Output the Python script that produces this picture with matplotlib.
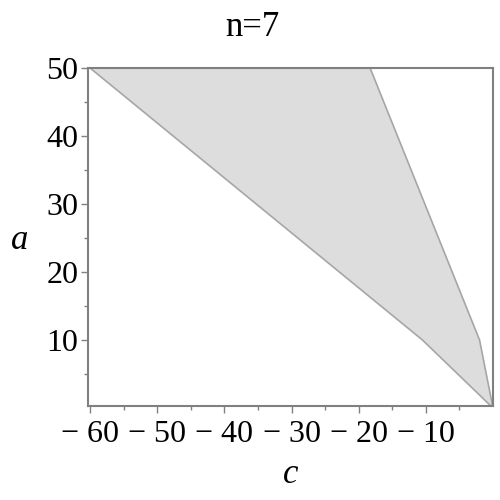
import matplotlib
matplotlib.use("Agg")
import matplotlib.pyplot as plt
from matplotlib.patches import Polygon
from matplotlib.ticker import FixedLocator

# Region vertices (c, a)
c_vals = [-60.0, -18.3, -2.0, 0.0, -10.5]
a_vals = [50.0, 50.0, 10.0, 0.0, 10.0]

x_ticks = [-60, -50, -40, -30, -20, -10]
x_labels = ["\u2212 60", "\u2212 50", "\u2212 40", "\u2212 30", "\u2212 20", "\u2212 10"]
y_ticks = [10, 20, 30, 40, 50]
y_labels = ["10", "20", "30", "40", "50"]
title = "n=7"

plt.rcParams['font.family'] = ['Liberation Serif', 'DejaVu Serif']

fig = plt.figure(figsize=(5, 5), dpi=100)
ax = fig.add_axes([0.176, 0.188, 0.81, 0.676])

poly = Polygon(list(zip(c_vals, a_vals)), closed=True, facecolor='#dddddd',
               edgecolor='#a6a6a6', linewidth=1.2, zorder=2)
ax.add_patch(poly)

ax.set_xlim(-60.3, 0)
ax.set_ylim(0.3, 50)

ax.xaxis.set_major_locator(FixedLocator(x_ticks))
ax.set_xticklabels(x_labels)
ax.xaxis.set_minor_locator(FixedLocator([-55, -45, -35, -25, -15, -5]))
ax.yaxis.set_major_locator(FixedLocator(y_ticks))
ax.set_yticklabels(y_labels)
ax.yaxis.set_minor_locator(FixedLocator([5, 15, 25, 35, 45]))

for s in ax.spines.values():
    s.set_color('#808080')
    s.set_linewidth(1.5)

ax.tick_params(axis='both', which='major', direction='out', length=5,
               width=1, color='#808080', labelsize=23, pad=2)
ax.tick_params(axis='both', which='minor', direction='out', length=3,
               width=1, color='#808080')
ax.tick_params(axis='x', which='major', pad=5)

ax.set_xlabel("c", fontsize=25, style='italic')
ax.xaxis.set_label_coords(0.5, -0.204)
ax.xaxis.label.set_va('center')
ax.set_ylabel("a", fontsize=25, style='italic', rotation=0, va='center', ha='center')
ax.yaxis.set_label_coords(-0.168, 0.49)
fig.text(0.504, 0.944, title, fontsize=25, ha='center', va='center')

fig.savefig("out.png", dpi=100)
